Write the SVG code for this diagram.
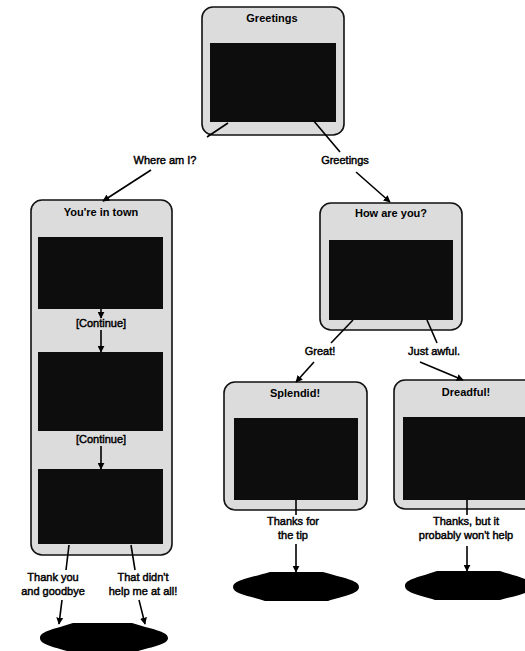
<svg xmlns="http://www.w3.org/2000/svg" width="525" height="651" viewBox="0 0 525 651">
<defs>
<marker id="ah" viewBox="0 0 10 10" refX="9" refY="5" markerWidth="7" markerHeight="7" orient="auto" markerUnits="userSpaceOnUse"><path d="M0,0 L10,5 L0,10 z" fill="#000"/></marker>
<style>
.box{fill:#dcdcdc;stroke:#111;stroke-width:1.6}
.scr{fill:#0d0d0d}
.title{font-family:"Liberation Sans",Arial,sans-serif;font-size:11px;font-weight:bold;text-anchor:middle;fill:#000}
.lbl{font-family:"Liberation Sans",Arial,sans-serif;font-size:11px;text-anchor:middle;fill:#000;stroke:#000;stroke-width:0.45}
.ln{stroke:#000;stroke-width:1.6;fill:none}
.ar{stroke:#000;stroke-width:1.6;fill:none;marker-end:url(#ah)}
.term{fill:#000}
</style>
</defs>
<rect width="525" height="651" fill="#fff"/>
<g id="greetings">
<rect class="box" x="202" y="7" width="142" height="128" rx="11"/>
<text class="title" x="272" y="22">Greetings</text>
<rect class="scr" x="210" y="43" width="126" height="79"/>
</g>
<g id="town">
<rect class="box" x="31" y="200" width="141" height="355" rx="11"/>
<text class="title" x="101" y="216">You're in town</text>
<rect class="scr" x="38" y="237" width="125" height="72"/>
<text class="lbl" x="101" y="327">[Continue]</text>
<rect class="scr" x="38" y="352" width="125" height="79"/>
<text class="lbl" x="101" y="443">[Continue]</text>
<rect class="scr" x="38" y="469" width="125" height="75"/>
</g>
<g id="howareyou">
<rect class="box" x="320" y="203" width="142" height="127" rx="11"/>
<text class="title" x="391" y="217">How are you?</text>
<rect class="scr" x="329" y="240" width="124" height="80"/>
</g>
<g id="splendid">
<rect class="box" x="224" y="382" width="143" height="128" rx="11"/>
<text class="title" x="295" y="397">Splendid!</text>
<rect class="scr" x="234" y="418" width="124" height="82"/>
</g>
<g id="dreadful">
<rect class="box" x="394" y="380" width="143" height="129" rx="11"/>
<text class="title" x="466" y="396">Dreadful!</text>
<rect class="scr" x="403" y="417" width="122" height="83"/>
</g>
<g id="end1"><path class="term" d="M40,638 C40,631 55,629 73,623 L132,623 C150,629 168,631 168,638 C168,645 150,647 135,652 L70,652 C55,647 40,645 40,638 Z"/></g>
<g id="end2"><path class="term" d="M233,587 C233,580 250,578 270,572 L323,572 C343,578 359,580 359,587 C359,594 343,596 328,601 L265,601 C250,596 233,594 233,587 Z"/></g>
<g id="end3"><path class="term" d="M405,586 C405,579 420,577 437,571 L500,571 C518,577 532,579 532,586 C532,593 518,595 500,600 L435,600 C420,595 405,593 405,586 Z"/></g>
<g id="connectors">
<line class="ln" x1="228" y1="123" x2="207" y2="137"/>
<text class="lbl" x="165" y="164">Where am I?</text>
<line class="ar" x1="151" y1="170" x2="103" y2="201"/>
<line class="ln" x1="313" y1="120" x2="340" y2="152"/>
<text class="lbl" x="345" y="164">Greetings</text>
<line class="ar" x1="356" y1="172" x2="390" y2="202"/>
<line class="ar" x1="101" y1="309" x2="101" y2="318"/>
<line class="ar" x1="101" y1="330" x2="101" y2="352"/>
<line class="ar" x1="101" y1="446" x2="101" y2="469"/>
<line class="ln" x1="353" y1="320" x2="331" y2="343"/>
<text class="lbl" x="320" y="355">Great!</text>
<line class="ar" x1="314" y1="362" x2="296" y2="382"/>
<line class="ln" x1="427" y1="320" x2="437" y2="343"/>
<text class="lbl" x="434" y="355">Just awful.</text>
<line class="ar" x1="420" y1="362" x2="463" y2="380"/>
<line class="ln" x1="296" y1="500" x2="296" y2="515"/>
<text class="lbl" x="293" y="525">Thanks for</text>
<text class="lbl" x="293" y="539">the tip</text>
<line class="ar" x1="296" y1="544" x2="296" y2="572"/>
<line class="ln" x1="467" y1="500" x2="467" y2="515"/>
<text class="lbl" x="466" y="525">Thanks, but it</text>
<text class="lbl" x="466" y="539">probably won't help</text>
<line class="ar" x1="467" y1="546" x2="467" y2="571"/>
<line class="ln" x1="69" y1="545" x2="66" y2="570"/>
<line class="ln" x1="131" y1="545" x2="135" y2="570"/>
<text class="lbl" x="53" y="581">Thank you</text>
<text class="lbl" x="53" y="595">and goodbye</text>
<text class="lbl" x="143" y="581">That didn't</text>
<text class="lbl" x="143" y="595">help me at all!</text>
<line class="ar" x1="62" y1="600" x2="59" y2="624"/>
<line class="ar" x1="139" y1="600" x2="145" y2="624"/>
</g>
</svg>
